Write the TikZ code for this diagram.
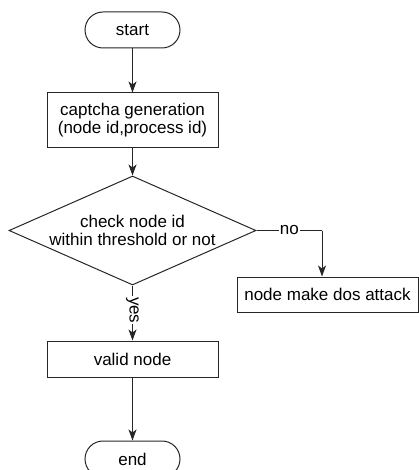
\documentclass[tikz,border=0pt]{standalone}
\usepackage{fontspec}
\setmainfont{Liberation Sans}
\usetikzlibrary{shapes.geometric,arrows.meta}
\begin{document}
\begin{tikzpicture}[x=1pt,y=-1pt,
  every node/.style={font=\fontsize{17}{18}\selectfont, text=black},
  line/.style={draw=black!85, line width=1pt},
  arr/.style={line, -{Stealth[length=11pt,width=8pt,inset=3pt]}},
  pill/.style={line, rounded corners=18pt, minimum width=95pt, minimum height=36pt, inner sep=0pt},
  box/.style={line, rectangle, inner sep=0pt, align=center},
  dec/.style={line, diamond, aspect=2.27, minimum width=247pt, minimum height=109pt, inner sep=0pt, align=center},
  lbl/.style={fill=white, inner sep=1pt}]
\useasboundingbox (0,0) rectangle (419,470);
\node[pill] (start) at (132.5,30) {start};
\node[box, minimum width=171pt, minimum height=55pt] (gen) at (132.5,120.5) {captcha generation\\(node id,process id)};
\node[dec] (chk) at (132.5,230.5) {check node id\\within threshold or not};
\node[box, minimum width=181pt, minimum height=35pt] (dos) at (327.5,294.5) {node make dos attack};
\node[box, minimum width=171pt, minimum height=36pt] (valid) at (132.5,359) {valid node};
\node[pill] (end) at (132.5,459) {end};
\coordinate (turn) at (322,230.5);
\draw[arr] (start) -- (gen);
\draw[arr] (gen) -- (chk);
\draw[line] (chk.east) -- node[lbl] (no) {no} (turn);
\draw[arr] (turn) -- (turn |- dos.north);
\draw[arr] (chk.south) -- (valid.north) node[lbl, pos=0.45, rotate=-90] (yes) {yes};
\draw[arr] (valid) -- (end);
\end{tikzpicture}
\end{document}
